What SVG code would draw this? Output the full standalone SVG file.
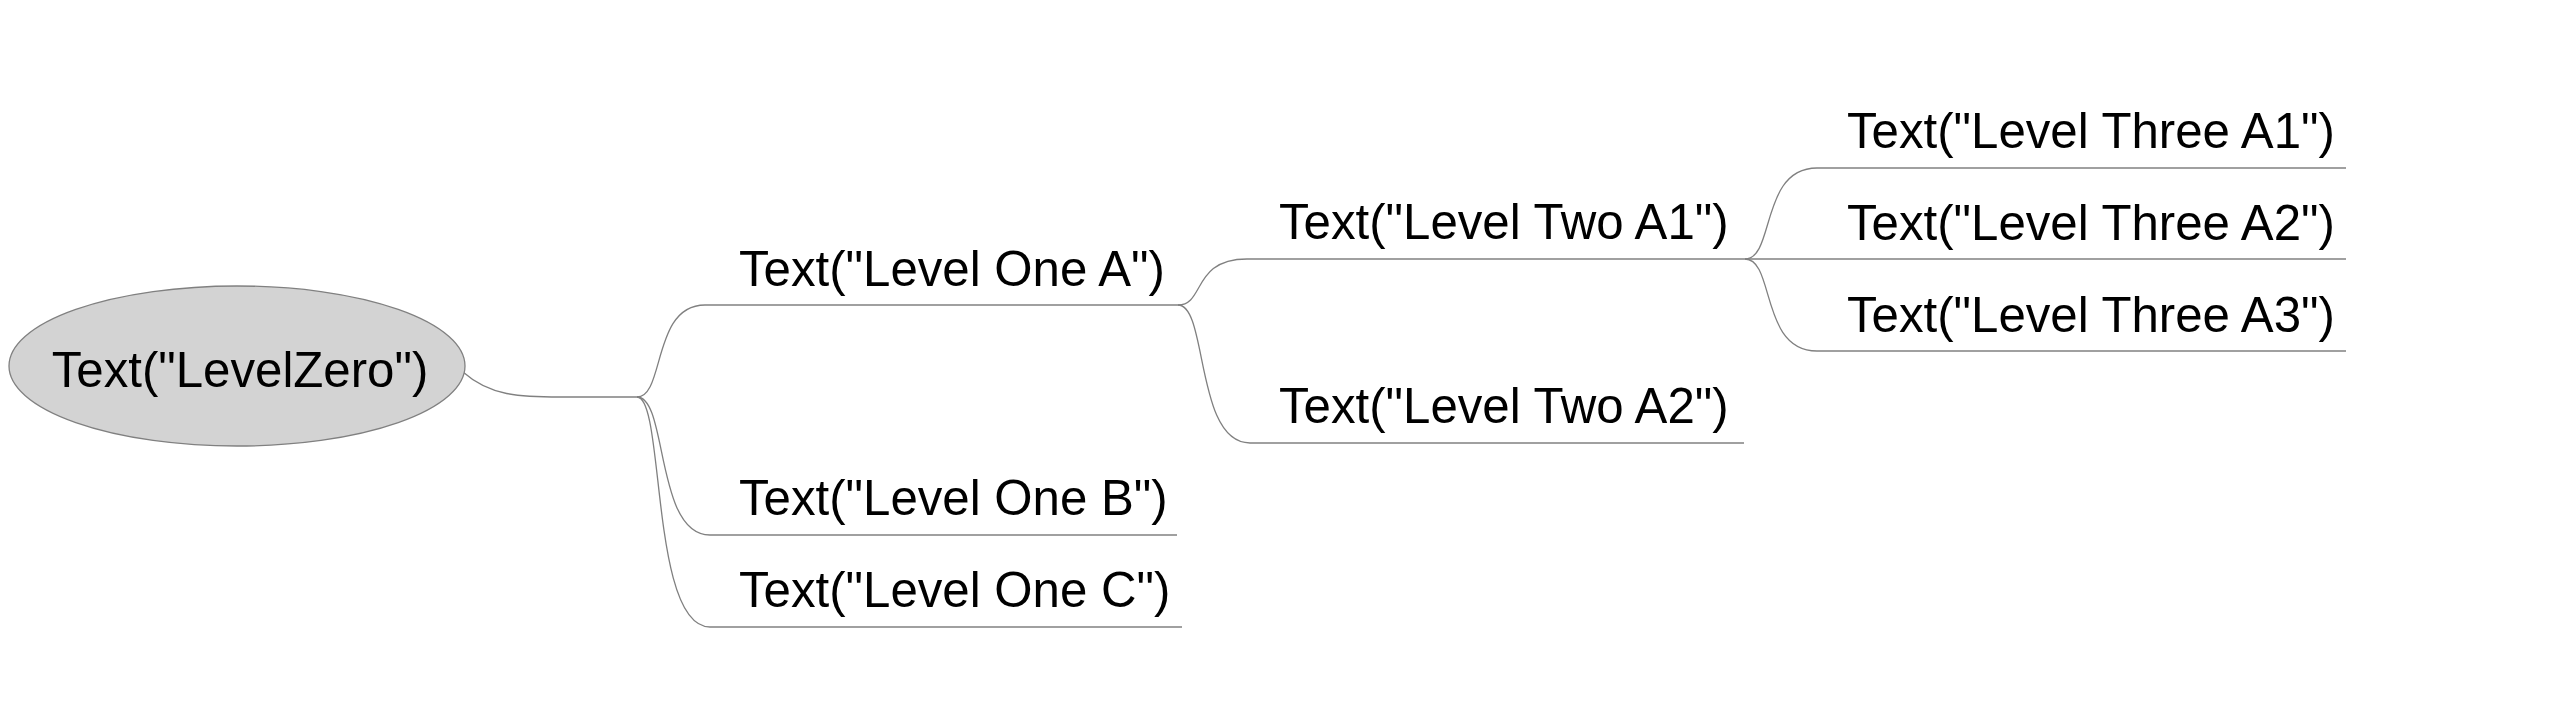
<svg xmlns="http://www.w3.org/2000/svg" width="2569" height="711" viewBox="0 0 2569 711">
<style>
.lbl{font-family:"Liberation Sans",Arial,sans-serif;font-size:49.2px;fill:#000}
.ul{stroke:#808080;stroke-width:1.3;fill:none}
.cn{stroke:#808080;stroke-width:1.3;fill:none}
</style>
<rect width="2569" height="711" fill="#fff"/>
<g id="connectors">
<path class="cn" d="M463,372 C490,396 520,397 560,397 L637,397"/>
<path class="cn" d="M637,397 C665,397 652,305 705,305"/>
<path class="cn" d="M637,397 C668,397 655,535 710,535"/>
<path class="cn" d="M637,397 C665,397 650,627 710,627"/>
<path class="cn" d="M1178,305 C1205,305 1192,259 1247,259"/>
<path class="cn" d="M1178,305 C1208,305 1195,443 1250,443"/>
<path class="cn" d="M1745,259 C1775,259 1760,168 1817,168"/>
<path class="cn" d="M1745,259 C1775,259 1760,351 1817,351"/>
</g>
<g id="levelZero">
<ellipse cx="237" cy="366" rx="228" ry="80" fill="#d3d3d3" stroke="#808080" stroke-width="1.3"/>
<text class="lbl" x="240" y="387" text-anchor="middle">Text("LevelZero")</text>
</g>
<g id="levelOneA">
<text class="lbl" x="739" y="286">Text("Level One A")</text>
<line class="ul" x1="705" y1="305" x2="1178" y2="305"/>
</g>
<g id="levelOneB">
<text class="lbl" x="739" y="515">Text("Level One B")</text>
<line class="ul" x1="710" y1="535" x2="1177" y2="535"/>
</g>
<g id="levelOneC">
<text class="lbl" x="739" y="607">Text("Level One C")</text>
<line class="ul" x1="710" y1="627" x2="1182" y2="627"/>
</g>
<g id="levelTwoA1">
<text class="lbl" x="1279" y="239">Text("Level Two A1")</text>
<line class="ul" x1="1247" y1="259" x2="1745" y2="259"/>
</g>
<g id="levelTwoA2">
<text class="lbl" x="1279" y="423">Text("Level Two A2")</text>
<line class="ul" x1="1250" y1="443" x2="1744" y2="443"/>
</g>
<g id="levelThreeA1">
<text class="lbl" x="1847" y="148">Text("Level Three A1")</text>
<line class="ul" x1="1817" y1="168" x2="2346" y2="168"/>
</g>
<g id="levelThreeA2">
<text class="lbl" x="1847" y="240">Text("Level Three A2")</text>
<line class="ul" x1="1745" y1="259" x2="2346" y2="259"/>
</g>
<g id="levelThreeA3">
<text class="lbl" x="1847" y="332">Text("Level Three A3")</text>
<line class="ul" x1="1817" y1="351" x2="2346" y2="351"/>
</g>
</svg>
